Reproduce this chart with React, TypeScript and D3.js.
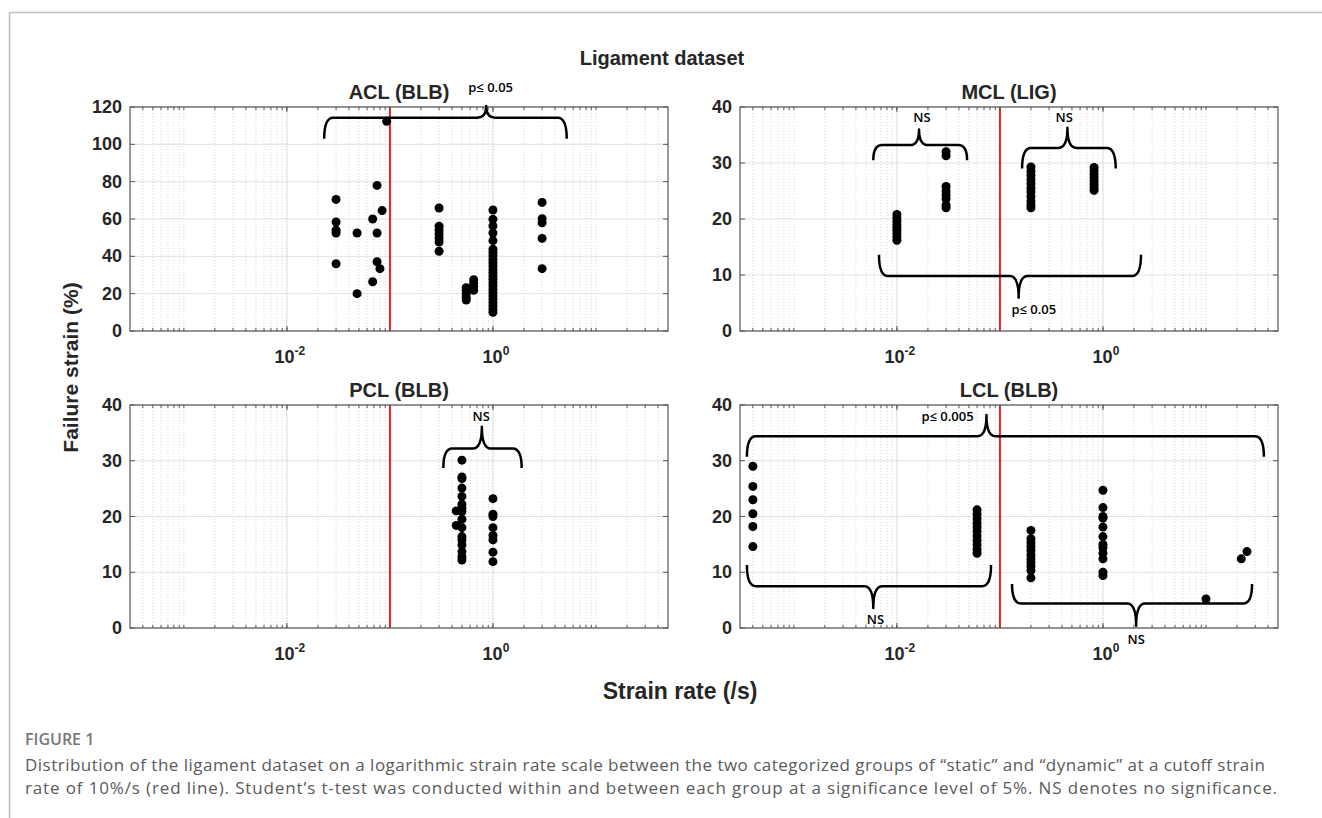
import React from 'react';
import * as d3 from 'd3';

// ---------- data ----------
const RATE_DOMAIN: [number, number] = [3e-4, 50];
const CUTOFF_RATE = 0.1;
const X_TICKS = [1e-2, 1e0];
const X_TICK_EXPONENTS = ['-2', '0'];
const ACL_Y_TICKS = [0, 20, 40, 60, 80, 100, 120];
const SMALL_Y_TICKS = [0, 10, 20, 30, 40];

type Column = { rate: number; strains: number[] };

const aclColumns: Column[] = [
  { rate: 0.03, strains: [70.5, 58.4, 54, 52.5, 36] },
  { rate: 0.048, strains: [52.5, 20] },
  { rate: 0.068, strains: [60, 26.4] },
  { rate: 0.075, strains: [78, 52.5, 37.1] },
  { rate: 0.08, strains: [33.4] },
  { rate: 0.084, strains: [64.5] },
  { rate: 0.093, strains: [112.3] },
  { rate: 0.3, strains: [65.9, 56.1, 54.1, 52, 49.8, 47.7, 42.7] },
  { rate: 0.55, strains: [23.2, 21.8, 19.8, 17.9, 16.6] },
  { rate: 0.65, strains: [27.5, 25.5, 23.8, 21.8] },
  { rate: 1.0, strains: [64.8, 59.8, 56.3, 52.5, 48.4, 43.8, 42, 40.2, 38.4, 36.6, 34.8, 33, 31.3, 29.5, 27.7, 25.9, 24.1, 22.3, 20.5, 18.8, 17, 15.2, 13.4, 11.6, 10] },
  { rate: 3.0, strains: [68.9, 60.2, 58, 49.6, 33.4] },
];

const mclColumns: Column[] = [
  { rate: 0.01, strains: [20.8, 20.2, 19.6, 19, 18.5, 18, 17.4, 16.8, 16.2] },
  { rate: 0.03, strains: [32, 31.3, 25.8, 25, 24.3, 23.6, 22.5, 22] },
  { rate: 0.2, strains: [29.3, 28.5, 27.8, 27, 26.3, 25.5, 24.8, 24, 23.2, 22.5, 22] },
  { rate: 0.82, strains: [29.2, 28.6, 28, 27.4, 26.8, 26.2, 25.6, 25.1] },
];

const pclColumns: Column[] = [
  { rate: 0.5, strains: [30.1, 27.1, 26.8, 25.1, 23.6, 22.2, 21.5, 20.9, 19.5, 18, 16.4, 15.8, 14.9, 13.7, 12.8, 12.2] },
  { rate: 0.44, strains: [21, 18.4] },
  { rate: 1.0, strains: [23.2, 20.4, 20, 18, 16.6, 15.8, 13.6, 11.9] },
];

const lclColumns: Column[] = [
  { rate: 4e-4, strains: [29, 25.4, 23, 20.5, 18.2, 14.6] },
  { rate: 0.06, strains: [21.2, 20.4, 19.6, 18.8, 18.1, 17.3, 16.5, 15.7, 14.9, 14.1, 13.4] },
  { rate: 0.2, strains: [17.5, 16, 15.3, 14.6, 13.9, 13.1, 12.4, 11.7, 11, 10.3, 9] },
  { rate: 1.0, strains: [24.7, 21.6, 20, 19.7, 18.1, 16.4, 15, 14.4, 13.4, 12.4, 10, 9.4] },
  { rate: 10, strains: [5.2] },
  { rate: 22, strains: [12.4] },
  { rate: 25, strains: [13.7] },
];

// significance braces (annotation anchors in data units)
type Brace = { x0: number; x1: number; xTip: number; yEnd: number; yLine: number; yTip: number; label: string; labelX: number; labelY: number };

const aclBraces: Brace[] = [
  { x0: 0.023, x1: 5.2, xTip: 0.86, yEnd: 103, yLine: 114.3, yTip: 120.5, label: 'p≤ 0.05', labelX: 0.95, labelY: 130.5 },
];
const mclBraces: Brace[] = [
  { x0: 0.0059, x1: 0.048, xTip: 0.0164, yEnd: 30.5, yLine: 33.2, yTip: 36, label: 'NS', labelX: 0.0175, labelY: 38.3 },
  { x0: 0.164, x1: 1.33, xTip: 0.452, yEnd: 29, yLine: 32.7, yTip: 36.3, label: 'NS', labelX: 0.42, labelY: 38.3 },
  { x0: 0.0067, x1: 2.34, xTip: 0.152, yEnd: 13.6, yLine: 9.8, yTip: 5.95, label: 'p≤ 0.05', labelX: 0.213, labelY: 3.9 },
];
const pclBraces: Brace[] = [
  { x0: 0.33, x1: 1.9, xTip: 0.78, yEnd: 28.7, yLine: 32.2, yTip: 36.1, label: 'NS', labelX: 0.77, labelY: 38 },
];
const lclBraces: Brace[] = [
  { x0: 3.5e-4, x1: 36.5, xTip: 0.074, yEnd: 30.7, yLine: 34.4, yTip: 38.2, label: 'p≤ 0.005', labelX: 0.031, labelY: 38 },
  { x0: 3.5e-4, x1: 0.082, xTip: 0.0059, yEnd: 11.3, yLine: 7.5, yTip: 3.6, label: 'NS', labelX: 0.0062, labelY: 1.6 },
  { x0: 0.131, x1: 28, xTip: 2.1, yEnd: 7.9, yLine: 4.4, yTip: 0.4, label: 'NS', labelX: 2.1, labelY: -1.9 },
];

const FIG_TITLE = 'Ligament dataset';
const X_LABEL = 'Strain rate (/s)';
const Y_LABEL = 'Failure strain (%)';
const CAPTION_HEAD = 'FIGURE 1';
const CAPTION_LINES = [
  'Distribution of the ligament dataset on a logarithmic strain rate scale between the two categorized groups of \u201cstatic\u201d and \u201cdynamic\u201d at a cutoff strain',
  'rate of 10%/s (red line). Student\u2019s t-test was conducted within and between each group at a significance level of 5%. NS denotes no significance.',
];

// ---------- layout ----------
const W = 1322;
const H = 818;
const AX_W = 538;
const COL_LEFT = [130, 740];
const ROW_TOP = [107, 405];
const ROW_H = [224, 223];
const FONT = "'Liberation Sans', Arial, sans-serif";
const CAP_FONT = "'Open Sans', 'Noto Sans', sans-serif";
const AX_COLOR = '#262626';
const CAPTION_LEFT = 25;
const CAPTION_WIDTHS = [1240, 1252];

type PanelSpec = { title: string; col: number; row: number; yMax: number; yTicks: number[]; columns: Column[]; braces: Brace[] };

const panels: PanelSpec[] = [
  { title: 'ACL (BLB)', col: 0, row: 0, yMax: 120, yTicks: ACL_Y_TICKS, columns: aclColumns, braces: aclBraces },
  { title: 'MCL (LIG)', col: 1, row: 0, yMax: 40, yTicks: SMALL_Y_TICKS, columns: mclColumns, braces: mclBraces },
  { title: 'PCL (BLB)', col: 0, row: 1, yMax: 40, yTicks: SMALL_Y_TICKS, columns: pclColumns, braces: pclBraces },
  { title: 'LCL (BLB)', col: 1, row: 1, yMax: 40, yTicks: SMALL_Y_TICKS, columns: lclColumns, braces: lclBraces },
];

function minorValues(domain: [number, number]): number[] {
  const out: number[] = [];
  for (let k = -5; k <= 3; k++) {
    for (let m = 1; m <= 9; m++) {
      const v = m * Math.pow(10, k);
      if (v > domain[0] * 1.0001 && v < domain[1] * 0.9999) out.push(v);
    }
  }
  return out;
}

function bracePath(x0: number, x1: number, xt: number, yEnd: number, yLine: number, yTip: number): string {
  const r = 9;
  const r2 = 9;
  return [
    `M${x0},${yEnd}`,
    `Q${x0},${yLine} ${x0 + r},${yLine}`,
    `L${xt - r2},${yLine}`,
    `Q${xt},${yLine} ${xt},${yTip}`,
    `Q${xt},${yLine} ${xt + r2},${yLine}`,
    `L${x1 - r},${yLine}`,
    `Q${x1},${yLine} ${x1},${yEnd}`,
  ].join(' ');
}

function Panel({ spec }: { spec: PanelSpec }) {
  const left = COL_LEFT[spec.col];
  const top = ROW_TOP[spec.row];
  const h = ROW_H[spec.row];
  const x = d3.scaleLog().domain(RATE_DOMAIN).range([left, left + AX_W]);
  const y = d3.scaleLinear().domain([0, spec.yMax]).range([top + h, top]);
  const minors = minorValues(RATE_DOMAIN);
  const bottom = top + h;
  const right = left + AX_W;
  return (
    <g>
      {spec.yTicks.map((t) => (
        <line key={'hg' + t} x1={left} x2={right} y1={y(t)} y2={y(t)} stroke="#e3e3e3" strokeWidth={1} />
      ))}
      {minors.map((v) => (
        <line key={'mg' + v} x1={x(v)} x2={x(v)} y1={top} y2={bottom} stroke="#cccccc" strokeWidth={0.8} strokeDasharray="1,2" />
      ))}
      {X_TICKS.map((v) => (
        <line key={'xg' + v} x1={x(v)} x2={x(v)} y1={top} y2={bottom} stroke="#e0e0e0" strokeWidth={1} />
      ))}
      <line x1={x(CUTOFF_RATE)} x2={x(CUTOFF_RATE)} y1={top} y2={bottom} stroke="#f01e1e" strokeWidth={2} />
      {spec.columns.map((c, ci) =>
        c.strains.map((s, si) => <circle key={ci + '-' + si} cx={x(c.rate)} cy={y(s)} r={4.5} fill="#000" />)
      )}
      <rect x={left} y={top} width={AX_W} height={h} fill="none" stroke="#555" strokeWidth={1.2} />
      {minors.map((v) => (
        <g key={'mt' + v}>
          <line x1={x(v)} x2={x(v)} y1={bottom} y2={bottom - 3} stroke="#555" strokeWidth={1} />
          <line x1={x(v)} x2={x(v)} y1={top} y2={top + 3} stroke="#555" strokeWidth={1} />
        </g>
      ))}
      {X_TICKS.map((v) => (
        <g key={'xt' + v}>
          <line x1={x(v)} x2={x(v)} y1={bottom} y2={bottom - 5} stroke="#555" strokeWidth={1} />
          <line x1={x(v)} x2={x(v)} y1={top} y2={top + 5} stroke="#555" strokeWidth={1} />
        </g>
      ))}
      {spec.yTicks.map((t) => (
        <g key={'yt' + t}>
          <line x1={left} x2={left + 5} y1={y(t)} y2={y(t)} stroke="#555" strokeWidth={1} />
          <line x1={right} x2={right - 5} y1={y(t)} y2={y(t)} stroke="#555" strokeWidth={1} />
          <text x={left - 8} y={y(t)} textAnchor="end" dominantBaseline="central" fontFamily={FONT} fontWeight="bold" fontSize={18} fill={AX_COLOR}>
            {t}
          </text>
        </g>
      ))}
      {X_TICKS.map((v, i) => (
        <text key={'xl' + v} x={x(v) + 3} y={bottom + 32} textAnchor="middle" fontFamily={FONT} fontWeight="bold" fontSize={18} fill={AX_COLOR}>
          <tspan>10</tspan>
          <tspan dy={-8} fontSize={12}>{X_TICK_EXPONENTS[i]}</tspan>
        </text>
      ))}
      <text x={(left + right) / 2} y={top - 8} textAnchor="middle" fontFamily={FONT} fontWeight="bold" fontSize={20} fill={AX_COLOR}>
        {spec.title}
      </text>
      {spec.braces.map((b, i) => (
        <g key={'b' + i}>
          <path d={bracePath(x(b.x0), x(b.x1), x(b.xTip), y(b.yEnd), y(b.yLine), y(b.yTip))} fill="none" stroke="#000" strokeWidth={2.5} strokeLinejoin="round" />
          <text x={x(b.labelX)} y={y(b.labelY)} textAnchor="middle" dominantBaseline="central" fontFamily={CAP_FONT} fontWeight={600} fontSize={13} fill="#000">
            {b.label}
          </text>
        </g>
      ))}
    </g>
  );
}

export default function App() {
  return (
    <svg width={W} height={H} style={{ position: 'absolute', left: 0, top: 0, background: '#fff' }}>
      <rect x={0} y={0} width={W} height={H} fill="#fff" />
      <line x1={9.5} x2={W} y1={12.5} y2={12.5} stroke="#bdbdbd" strokeWidth={1.5} />
      <line x1={9.5} x2={9.5} y1={12.5} y2={H} stroke="#bdbdbd" strokeWidth={1.5} />
      <text x={662} y={65} textAnchor="middle" fontFamily={FONT} fontWeight="bold" fontSize={20} fill={AX_COLOR}>
        {FIG_TITLE}
      </text>
      {panels.map((p) => (
        <Panel key={p.title} spec={p} />
      ))}
      <text transform={`translate(78, ${(ROW_TOP[0] + ROW_TOP[1] + ROW_H[1]) / 2}) rotate(-90)`} textAnchor="middle" fontFamily={FONT} fontWeight="bold" fontSize={21} fill={AX_COLOR}>
        {Y_LABEL}
      </text>
      <text x={680} y={699} textAnchor="middle" fontFamily={FONT} fontWeight="bold" fontSize={23} fill={AX_COLOR}>
        {X_LABEL}
      </text>
      <text x={CAPTION_LEFT} y={745} fontFamily={CAP_FONT} fontWeight={600} fontSize={16} fill="#777">
        {CAPTION_HEAD}
      </text>
      {CAPTION_LINES.map((l, i) => (
        <text key={i} x={CAPTION_LEFT} y={771 + i * 23} fontFamily={CAP_FONT} fontSize={17} fill="#5a5a5a" textLength={CAPTION_WIDTHS[i]} lengthAdjust="spacing">
          {l}
        </text>
      ))}
    </svg>
  );
}
